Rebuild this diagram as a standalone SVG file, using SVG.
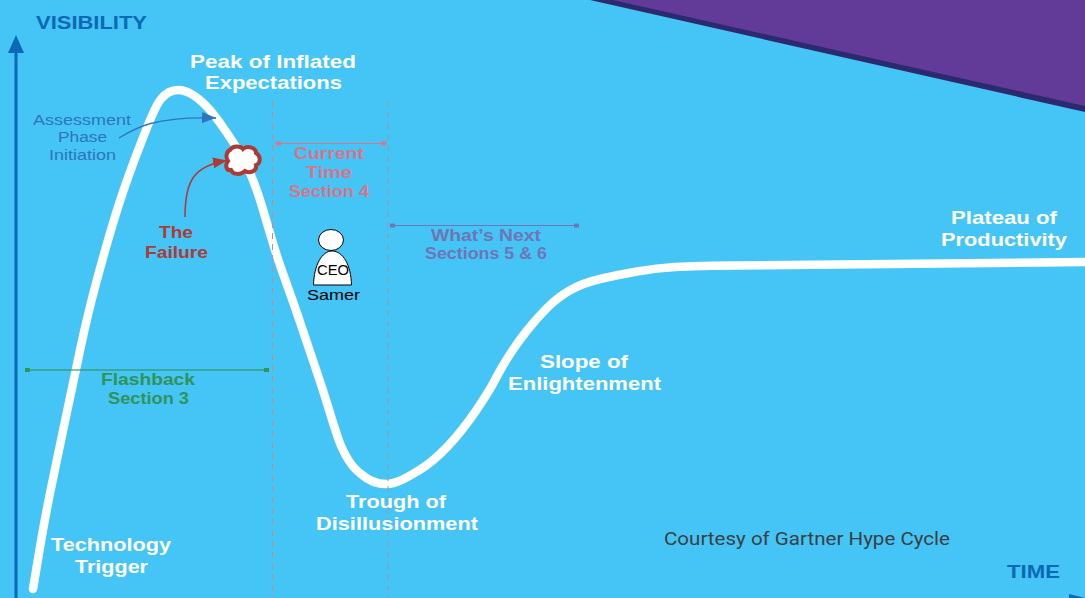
<svg xmlns="http://www.w3.org/2000/svg" width="1085" height="598" viewBox="0 0 1085 598">
<style>
text{font-family:"Liberation Sans",Arial,sans-serif;text-anchor:middle}
.w{font-weight:bold;font-size:19px;fill:#fff}
.ax{font-weight:bold;font-size:19px;fill:#0b69b5}
.d{fill:none;stroke-width:1;stroke-dasharray:6 5}
.g{font-weight:bold;font-size:16.5px;fill:#2f9458}
.r{font-weight:bold;font-size:16.5px;fill:#d9748a}
.p{font-weight:bold;font-size:16.5px;fill:#6f75b5}
.b{font-size:15.5px;fill:#2f74bd}
.f{font-weight:bold;font-size:16.5px;fill:#ad3a35}
.k{font-size:14px;fill:#000}
</style>
<defs>
<marker id="mb" markerUnits="userSpaceOnUse" markerWidth="16" markerHeight="11" refX="14" refY="5.500" orient="auto"><path d="M0 0L14 5.500L0 11Z" fill="#2f74bd"/></marker>
<marker id="mr" markerUnits="userSpaceOnUse" markerWidth="16" markerHeight="11" refX="14" refY="5.500" orient="auto"><path d="M0 0L14 5.500L0 11Z" fill="#ad3a35"/></marker>
</defs>
<rect id="background" width="1085" height="598" fill="#44c5f6"/>
<g id="corner"><polygon points="590,0 1085,0 1085,112" fill="#2b2a6e"/><polygon points="613,0 1085,0 1085,106" fill="#623b99"/></g>
<g id="connectors">
<path d="M16 598V52" fill="none" stroke="#0b69b5" stroke-width="3"/>
<polygon points="8,53 16,35 24,53" fill="#0b69b5"/>
<polygon points="1069,598 1069,594 1085,598" fill="#0b69b5"/>
<path id="curve" d="M33 589L39 553Q45 517 52 483.500Q59 450 66 416.500Q73 383 80.500 348Q88 313 96.500 281.500Q105 250 112.500 225Q120 200 127.500 179Q135 158 142.500 139C150 120 155 106 161 99C166 93 171 90 178 90C190 90 201 100 210 110Q219 121 227 133Q240 152 247.500 167.500Q255 183 262.500 208Q270 233 273.500 245Q277 257 286 282Q295 307 301 325Q307 343 315 366.500Q323 390 328 406.500Q333 423 338 438C343 452 350 466 361 474C369 481 377 484 386 484C397 484 408 477 418 471Q433 462 448 446Q463 430 476.500 410Q490 390 495 380Q500 370 508.500 356.500Q517 343 527 330.500Q537 318 547.500 307.500Q558 297 570.500 290Q583 283 600 279Q617 275 637 271.500Q657 268 675 267Q693 266 711.500 265.800L1085 262" fill="none" stroke="#fff" stroke-width="8.500" stroke-linecap="round" stroke-linejoin="round"/>
<path class="d" stroke="#c98a7f" d="M272.500 101V598"/><path class="d" stroke="#9a96a6" d="M388 101V598"/>
<path d="M28 370H266" stroke="#2f9458" stroke-opacity=".75" stroke-width="1.500"/>
<rect x="25" y="368" width="5" height="4" fill="#2f9458"/><rect x="264" y="368" width="5" height="4" fill="#2f9458"/>
<path d="M278 143.500H384" stroke="#d9748a" stroke-width="1"/>
<rect x="276" y="141.500" width="5" height="4" fill="#d9748a"/><rect x="381" y="141.500" width="5" height="4" fill="#d9748a"/>
<path d="M392 225.500H577" stroke="#6f75b5" stroke-width="1"/>
<rect x="390" y="223.500" width="5" height="4" fill="#6f75b5"/><rect x="574" y="223.500" width="5" height="4" fill="#6f75b5"/>
<path d="M119 138C135 128 155 116 216 118" fill="none" stroke="#2f74bd" stroke-width="1.300" marker-end="url(#mb)"/>
<path d="M185 217C185 180 194 166 227 160.500" fill="none" stroke="#ad3a35" stroke-width="1.500" marker-end="url(#mr)"/>
</g>
<g id="failure"><path d="M230 150C233 145 241 146 243 149C248 145 256 148 256 153C261 156 261 163 256 165C257 171 250 174 245 171C241 175 233 175 231 170C226 171 225 165 228 161C225 157 227 151 230 150Z" fill="#fff" stroke="#ad3a35" stroke-width="4"/></g>
<g id="ceo">
<ellipse cx="331" cy="240" rx="12.500" ry="10.500" fill="#fff" stroke="#000" stroke-width="1"/>
<path d="M313.500 285C314 265 322 251 332 251C343 251 351 265 351.500 285Z" fill="#fff" stroke="#000" stroke-width="1"/>
<text class="k" x="333" y="275" textLength="32" lengthAdjust="spacingAndGlyphs">CEO</text>
<text class="k" x="333.500" y="300" textLength="53" lengthAdjust="spacingAndGlyphs">Samer</text>
</g>
<g id="labels">
<text class="ax" x="91.500" y="29" textLength="111" lengthAdjust="spacingAndGlyphs">VISIBILITY</text>
<text class="ax" x="1033.500" y="578" textLength="53" lengthAdjust="spacingAndGlyphs">TIME</text>
<text class="w" x="273" y="68" textLength="166" lengthAdjust="spacingAndGlyphs">Peak of Inflated</text><text class="w" x="273.500" y="89" textLength="137" lengthAdjust="spacingAndGlyphs">Expectations</text>
<text class="w" x="111" y="551" textLength="120" lengthAdjust="spacingAndGlyphs">Technology</text><text class="w" x="111.500" y="573" textLength="73" lengthAdjust="spacingAndGlyphs">Trigger</text>
<text class="w" x="396" y="508" textLength="100" lengthAdjust="spacingAndGlyphs">Trough of</text><text class="w" x="397" y="530" textLength="162" lengthAdjust="spacingAndGlyphs">Disillusionment</text>
<text class="w" x="584" y="368" textLength="88" lengthAdjust="spacingAndGlyphs">Slope of</text><text class="w" x="584.500" y="390" textLength="153" lengthAdjust="spacingAndGlyphs">Enlightenment</text>
<text class="w" x="1004" y="224" textLength="106" lengthAdjust="spacingAndGlyphs">Plateau of</text><text class="w" x="1004" y="246" textLength="126" lengthAdjust="spacingAndGlyphs">Productivity</text>
<text class="b" x="82" y="125" textLength="98" lengthAdjust="spacingAndGlyphs">Assessment</text><text class="b" x="82.500" y="142" textLength="49" lengthAdjust="spacingAndGlyphs">Phase</text><text class="b" x="82.500" y="160" textLength="67" lengthAdjust="spacingAndGlyphs">Initiation</text>
<text class="f" x="176" y="238" textLength="34" lengthAdjust="spacingAndGlyphs">The</text><text class="f" x="176.500" y="258" textLength="63" lengthAdjust="spacingAndGlyphs">Failure</text>
<text class="g" x="148" y="385" textLength="94" lengthAdjust="spacingAndGlyphs">Flashback</text><text class="g" x="148.500" y="404" textLength="81" lengthAdjust="spacingAndGlyphs">Section 3</text>
<text class="r" x="329" y="159" textLength="70" lengthAdjust="spacingAndGlyphs">Current</text><text class="r" x="329" y="178" textLength="46" lengthAdjust="spacingAndGlyphs">Time</text><text class="r" x="329" y="197" textLength="80" lengthAdjust="spacingAndGlyphs">Section 4</text>
<text class="p" x="486" y="241" textLength="110" lengthAdjust="spacingAndGlyphs">What’s Next</text><text class="p" x="486" y="259" textLength="122" lengthAdjust="spacingAndGlyphs">Sections 5 &amp; 6</text>
<text x="807" y="545" textLength="286" lengthAdjust="spacingAndGlyphs" style="font-family:Roboto,'Noto Sans',sans-serif;font-size:19px;fill:#3a3f44">Courtesy of Gartner Hype Cycle</text>
</g>
</svg>
